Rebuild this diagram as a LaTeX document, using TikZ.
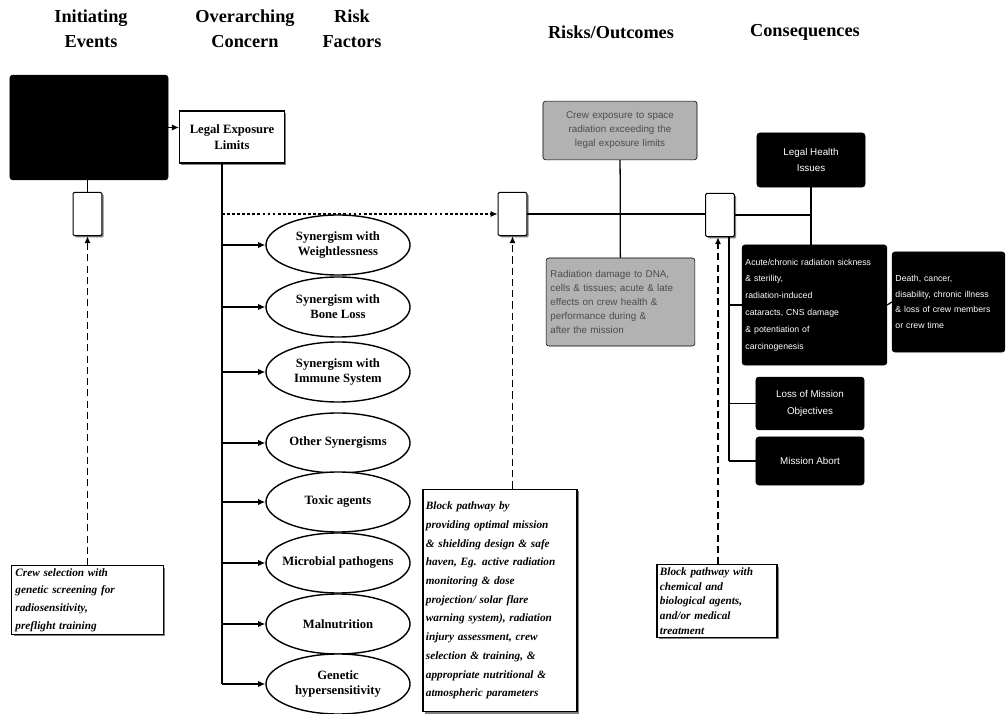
\documentclass[tikz,border=0pt]{standalone}
\usepackage{fontspec}
\setmainfont{Liberation Serif}
\setsansfont{Liberation Sans}
\usetikzlibrary{shapes.geometric,arrows.meta,shadows}

\begin{document}
\begin{tikzpicture}[x=0.025cm, y=-0.025cm,
    every node/.style={align=center, inner sep=2pt},
    header/.style={font=\fontsize{13}{18}\selectfont\bfseries},
    factor/.style={ellipse, draw, line width=1pt, fill=white, minimum width=3.6cm, minimum height=1.5cm, inner xsep=-0.25cm, inner ysep=0pt, font=\fontsize{9}{10.5}\selectfont\bfseries},
    whitebox/.style={draw, fill=white, line width=0.8pt, drop shadow={shadow xshift=1.3pt, shadow yshift=-1.3pt, opacity=1}},
    gate/.style={whitebox, minimum width=0.72cm, minimum height=1.08cm, rounded corners=1pt},
    blackbox/.style={draw, fill=black, text=white, rounded corners=2pt, font=\sffamily\fontsize{7}{12}\selectfont},
    graybox/.style={draw, fill=gray!60, rounded corners=2pt, text=black!70, font=\sffamily\fontsize{7}{10}\selectfont},
    note/.style={whitebox, align=left, font=\fontsize{8}{12.5}\selectfont\bfseries\itshape},
    wire/.style={line width=0.9pt},
    arrowed/.style={-{Latex[length=5pt,width=4.5pt]}},
    prevent/.style={wire, line width=1.1pt, dash pattern=on 5pt off 3pt, arrowed}
  ]
  \useasboundingbox (0,0) rectangle (1008,714);

  % column headers
  \node[header] (hInit) at (91,29) {Initiating\\Events};
  \node[header] (hConc) at (245,29) {Overarching\\Concern};
  \node[header] (hRisk) at (352,29) {Risk\\Factors};
  \node[header] (hOut) at (611,32) {Risks/Outcomes};
  \node[header] (hCons) at (805,32) {Consequences};

  % initiating event and overarching concern
  \node[blackbox, minimum width=3.95cm, minimum height=2.62cm] (init) at (89,127.5) {};
  \node[whitebox, minimum width=2.62cm, minimum height=1.3cm, font=\fontsize{9}{11}\selectfont\bfseries] (legal) at (232,137) {Legal Exposure\\Limits};
  \node[gate] (initGate) at (87.5,214) {};
  \coordinate (spine) at (222,163);

  % risk factors
  \node[factor] (weight) at (338,245) {Synergism with\\Weightlessness};
  \node[factor] (bone) at (338,307) {Synergism with\\Bone Loss};
  \node[factor] (immune) at (338,372) {Synergism with\\Immune System};
  \node[factor] (other) at (338,443) {Other Synergisms};
  \node[factor] (toxic) at (338,502) {Toxic agents};
  \node[factor] (microbe) at (338,563) {Microbial pathogens};
  \node[factor] (malnut) at (338,624) {Malnutrition};
  \node[factor] (genetic) at (338,684) {Genetic\\hypersensitivity};

  % risks / outcomes
  \node[gate] (riskGate) at (512.5,214) {};
  \node[graybox, minimum width=3.85cm, minimum height=1.47cm, text width=3.6cm] (outTop) at (620,130.5) {Crew exposure to space radiation exceeding the legal exposure limits};
  \node[graybox, minimum width=3.72cm, minimum height=2.2cm, text width=3.5cm, align=left] (outBot) at (620.5,302) {Radiation damage to DNA,\\cells \& tissues; acute \& late\\effects on crew health \&\\performance during \&\\after the mission};

  % consequences
  \node[gate] (conGate) at (720,215) {};
  \coordinate (conDrop) at (729,237);
  \node[blackbox, minimum width=2.7cm, minimum height=1.35cm] (healthLegal) at (811,160) {Legal Health\\Issues};
  \node[blackbox, minimum width=3.62cm, minimum height=3cm, text width=3.45cm, align=left, font=\sffamily\fontsize{6.2}{12}\selectfont] (sick) at (814.5,305) {Acute/chronic radiation sickness\\\& sterility,\\radiation-induced\\cataracts, CNS damage\\\& potentiation of\\carcinogenesis};
  \node[blackbox, minimum width=2.82cm, minimum height=2.5cm, text width=2.65cm, align=left, font=\sffamily\fontsize{6.2}{11}\selectfont] (death) at (948.5,302) {Death, cancer,\\disability, chronic illness\\\& loss of crew members\\or crew time};
  \node[blackbox, minimum width=2.7cm, minimum height=1.32cm] (lossObj) at (810,403.5) {Loss of Mission\\Objectives};
  \node[blackbox, minimum width=2.7cm, minimum height=1.2cm] (abort) at (810,461) {Mission Abort};

  % countermeasures
  \node[note, minimum width=3.78cm, text width=3.6cm] (crewNote) at (87.5,600) {Crew selection with\\genetic screening for\\radiosensitivity,\\preflight training};
  \node[note, minimum width=3.85cm, minimum height=5.57cm, text width=3.7cm, font=\fontsize{8}{13.3}\selectfont\bfseries\itshape] (shieldNote) at (500,600.5) {Block pathway by\\providing optimal mission\\\& shielding design \& safe\\haven, Eg. active radiation\\monitoring \& dose\\projection/ solar flare\\warning system), radiation\\injury assessment, crew\\selection \& training, \&\\appropriate nutritional \&\\atmospheric parameters};
  \node[note, minimum width=3cm, text width=2.85cm, font=\fontsize{8}{10.5}\selectfont\bfseries\itshape] (drugNote) at (717,601) {Block pathway with\\chemical and\\biological agents,\\and/or medical\\treatment};

  % connectors
  \draw[wire, arrowed] (init.east) -- (init.east -| legal.west);
  \draw[wire] (initGate.north |- init.south) -- (initGate.north);
  \draw[wire] (spine) -- (spine |- genetic.west);
  \draw[wire, arrowed] (spine |- weight.west) -- (weight.west);
  \draw[wire, arrowed] (spine |- bone.west) -- (bone.west);
  \draw[wire, arrowed] (spine |- immune.west) -- (immune.west);
  \draw[wire, arrowed] (spine |- other.west) -- (other.west);
  \draw[wire, arrowed] (spine |- toxic.west) -- (toxic.west);
  \draw[wire, arrowed] (spine |- microbe.west) -- (microbe.west);
  \draw[wire, arrowed] (spine |- malnut.west) -- (malnut.west);
  \draw[wire, arrowed] (spine |- genetic.west) -- (genetic.west);
  \draw[wire, arrowed, dash pattern=on 2pt off 1.6pt] (spine |- riskGate.west) -- (riskGate.west);
  \draw[wire] (riskGate.east) -- (riskGate.east -| conGate.west);
  \draw[wire] (outTop) -- (outBot);
  \draw[wire] (conGate.east) -- (conGate.east -| healthLegal.south);
  \draw[wire] (healthLegal.south) -- (healthLegal.south |- sick.north);
  \draw[wire] (sick.east) -- (death.west);
  \draw[wire] (conDrop) -- (conDrop |- abort.west);
  \draw[wire] (conDrop |- sick.west) -- (sick.west);
  \draw[wire] (conDrop |- lossObj.west) -- (lossObj.west);
  \draw[wire] (conDrop |- abort.west) -- (abort.west);
  % blocking pathways
  \draw[prevent] (crewNote.north) -- (initGate.south);
  \draw[prevent] (riskGate.south |- shieldNote.north) -- (riskGate.south);
  \draw[prevent] ([xshift=-0.05cm]conGate.south |- drugNote.north) -- ([xshift=-0.05cm]conGate.south);
\end{tikzpicture}
\end{document}
